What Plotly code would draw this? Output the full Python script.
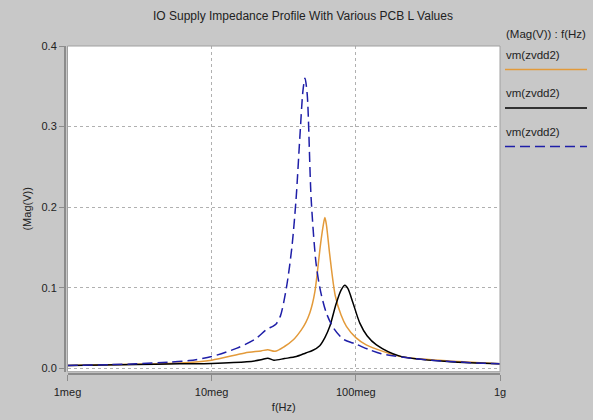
import plotly.graph_objects as go

# ---- data (frequency in MHz, magnitude in V) ----
f_orange = [1, 3, 6, 10, 17, 22, 24.5, 27.5, 32, 36.7, 42, 45, 48, 50, 52, 54, 57, 59.5, 61, 62.5, 66, 72, 79, 86, 100, 118, 200, 400, 1000]
v_orange = [0.0035, 0.005, 0.0065, 0.010, 0.019, 0.0215, 0.023, 0.021, 0.027, 0.035, 0.048, 0.057, 0.069, 0.080, 0.095, 0.118, 0.155, 0.178, 0.187, 0.178, 0.14, 0.09, 0.066, 0.052, 0.038, 0.029, 0.015, 0.0095, 0.0055]

f_black = [1, 3, 6, 10, 17.5, 22, 24.5, 27, 32, 38.7, 45, 50, 56.2, 61, 66, 73, 79, 84, 88, 95.6, 106.6, 120, 139, 202, 450, 1000]
v_black = [0.0035, 0.0045, 0.0055, 0.006, 0.008, 0.0105, 0.0125, 0.010, 0.012, 0.0145, 0.019, 0.022, 0.028, 0.038, 0.052, 0.08, 0.097, 0.103, 0.099, 0.081, 0.056, 0.04, 0.029, 0.015, 0.008, 0.0055]

f_blue = [1, 2, 3, 5, 7, 10, 15, 20, 24, 26.5, 28, 30, 33, 36, 38.5, 41, 43, 44.4, 46, 49, 53, 57, 62.6, 70, 82, 100, 124, 150, 250, 400, 700, 1000]
v_blue = [0.0035, 0.0045, 0.0055, 0.0075, 0.0095, 0.0145, 0.025, 0.036, 0.048, 0.052, 0.055, 0.065, 0.10, 0.15, 0.21, 0.29, 0.345, 0.36, 0.34, 0.21, 0.13, 0.095, 0.068, 0.05, 0.036, 0.030, 0.023, 0.018, 0.012, 0.009, 0.0065, 0.0055]

x_tickvals = [1e6, 1e7, 1e8, 1e9]
x_ticktext = ["1meg", "10meg", "100meg", "1g"]
y_tickvals = [0.0, 0.1, 0.2, 0.3, 0.4]
y_ticktext = ["0.0", "0.1", "0.2", "0.3", "0.4"]

legend_names = ["vm(zvdd2)", "vm(zvdd2)", "vm(zvdd2)"]
colors = ["#E39A3A", "#000000", "#1F1FA8"]
dashes = ["solid", "solid", "10px,5px"]

W, H = 593, 420
L, R, T, B = 65, 93, 46, 46
PW, PH = W - L - R, H - T - B

def px(x):
    return (x - L) / PW

def py(y):
    return (H - B - y) / PH

FONT = "Liberation Sans, Arial, sans-serif"

fig = go.Figure()
series = [(f_orange, v_orange), (f_black, v_black), (f_blue, v_blue)]
for (fx, vy), c, d, n in zip(series, colors, dashes, legend_names):
    fig.add_trace(go.Scatter(
        x=[v * 1e6 for v in fx], y=vy, mode="lines", name=n,
        line=dict(color=c, width=1.5, dash=d, shape="spline", smoothing=0.8),
        showlegend=False))

fig.update_layout(
    width=W, height=H,
    margin=dict(l=L, r=R, t=T, b=B, autoexpand=False),
    paper_bgcolor="#C8C8C8", plot_bgcolor="#FFFFFF",
    font=dict(family=FONT, size=11, color="#222222"),
    xaxis=dict(type="log", range=[6, 9], domain=[px(67.5), 1],
               tickvals=x_tickvals, ticktext=x_ticktext,
               showgrid=True, gridcolor="#B0B0B0", griddash="dot", gridwidth=1,
               showline=True, linecolor="#8C8C8C", linewidth=2,
               ticks="outside", ticklen=6, tickcolor="#8C8C8C",
               ticklabelstandoff=2, automargin=False,
               zeroline=False, anchor="free", position=0,
               title=dict(text="f(Hz)", standoff=5, font=dict(size=11))),
    yaxis=dict(range=[-0.0043, 0.4], domain=[py(371.7), 1],
               tickvals=y_tickvals, ticktext=y_ticktext,
               showgrid=True, gridcolor="#B0B0B0", griddash="dot", gridwidth=1,
               showline=True, linecolor="#8C8C8C", linewidth=2,
               ticks="outside", ticklen=5, tickcolor="#8C8C8C",
               automargin=False,
               zeroline=False, anchor="free", position=0,
               title=dict(text="(Mag(V))", standoff=7, font=dict(size=11))),
    showlegend=False,
)

# title
fig.add_annotation(text="IO Supply Impedance Profile With Various PCB L Values",
                   x=px(303), y=py(16), xref="paper", yref="paper",
                   showarrow=False, font=dict(size=12, color="#222222"),
                   xanchor="center", yanchor="middle")

# custom legend
fig.add_annotation(text="(Mag(V)) : f(Hz)", x=px(504), y=py(33.5), xref="paper", yref="paper",
                   showarrow=False, xanchor="left", yanchor="middle", font=dict(size=11.5))
label_y = [55, 93.5, 132]
line_y = [69.5, 108, 146.5]
for n, c, d, ly, lny in zip(legend_names, colors, dashes, label_y, line_y):
    fig.add_annotation(text=n, x=px(504), y=py(ly), xref="paper", yref="paper",
                       showarrow=False, xanchor="left", yanchor="middle", font=dict(size=11.5))
    fig.add_shape(type="line", xref="paper", yref="paper",
                  x0=px(505), x1=px(587), y0=py(lny), y1=py(lny),
                  line=dict(color=c, width=1.6, dash=d))

# plot frame
fig.add_shape(type="rect", xref="x domain", yref="y domain", x0=0, x1=1, y0=0, y1=1,
              line=dict(color="#A0A0A0", width=1), layer="above")

fig.write_html("out.html")
